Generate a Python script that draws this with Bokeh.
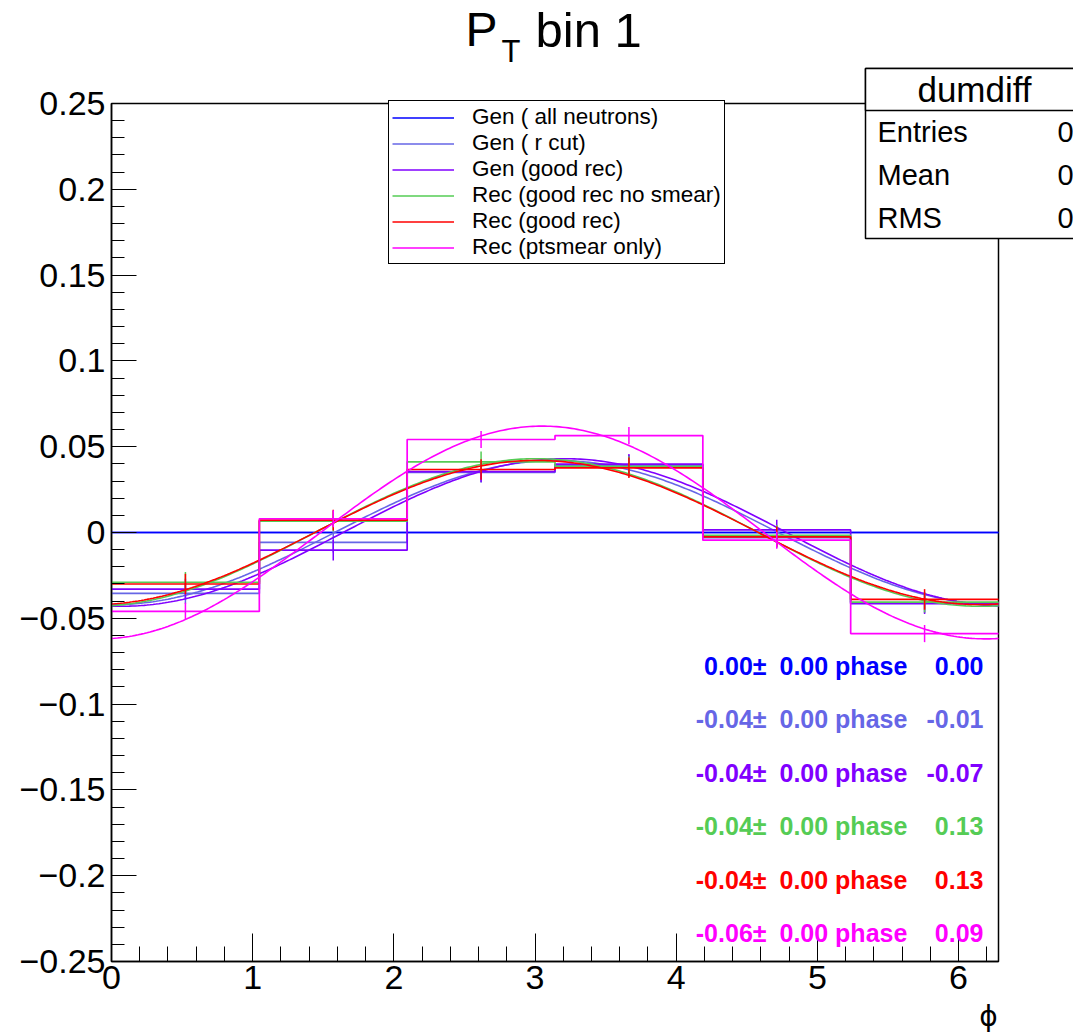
import numpy as np
from bokeh.plotting import figure
from bokeh.models import Range1d, FixedTicker, Label, Legend, LegendItem, BoxAnnotation
from bokeh.embed import file_html
from bokeh.resources import INLINE

# ---------------- data ----------------
series_names = ["Gen ( all neutrons)", "Gen ( r cut)", "Gen (good rec)",
                "Rec (good rec no smear)", "Rec (good rec)", "Rec (ptsmear only)"]
series_colors = ["#0000ff", "#6666e6", "#8000ff", "#55cc55", "#ff0000", "#ff00ff"]

n_bins = 6
gen_all      = [0.0, 0.0, 0.0, 0.0, 0.0, 0.0]
gen_rcut     = [-0.0355, -0.0057, 0.0350, 0.0392, -0.0030, -0.0410]
gen_goodrec  = [-0.0330, -0.0103, 0.0355, 0.0398, 0.0015, -0.0415]
rec_nosmear  = [-0.0290, 0.0066, 0.0412, 0.0385, -0.0017, -0.0406]
rec_goodrec  = [-0.0300, 0.0072, 0.0367, 0.0377, -0.0025, -0.0390]
rec_ptsmear  = [-0.0460, 0.0080, 0.0542, 0.0565, -0.0045, -0.0589]
hist_values = [gen_all, gen_rcut, gen_goodrec, rec_nosmear, rec_goodrec, rec_ptsmear]
hist_errors = [0.0, 0.006, 0.006, 0.006, 0.006, 0.005]

fit_amp   = [0.0, -0.042, -0.043, -0.043, -0.042, -0.062]
fit_err   = [0.0, 0.0, 0.0, 0.0, 0.0, 0.0]
fit_phase = [0.00, -0.01, -0.07, 0.13, 0.13, 0.09]

y_ticks = [-0.25, -0.2, -0.15, -0.1, -0.05, 0.0, 0.05, 0.1, 0.15, 0.2, 0.25]
y_tick_labels = ["\u22120.25", "\u22120.2", "\u22120.15", "\u22120.1", "\u22120.05", "0",
                 "0.05", "0.1", "0.15", "0.2", "0.25"]
x_ticks = [0, 1, 2, 3, 4, 5, 6]
x_tick_labels = ["0", "1", "2", "3", "4", "5", "6"]

stats_title = "dumdiff"
stats_rows = ["Entries", "Mean", "RMS"]
stats_vals = ["0", "0", "0"]

# ---------------- geometry ----------------
XMAX = 2 * np.pi
YMIN, YMAX = -0.25, 0.25
W, H = 1073, 1036
L, R, T, B = 111, 75, 103, 75        # pad position of the axis frame inside the canvas
FONT = "Liberation Sans"
fw, fh = W - L - R, H - T - B

def dx(px):
    return (px - L) / fw * XMAX

def dy(py):
    return YMAX - (py - T) / fh * (YMAX - YMIN)

# the Bokeh frame covers the whole canvas; the axes are pinned at the pad frame
p = figure(width=W, height=H, output_backend="svg", toolbar_location=None,
           x_range=Range1d(dx(0), dx(W)), y_range=Range1d(dy(H), dy(0)),
           min_border=0, min_border_left=0, min_border_right=0,
           min_border_top=0, min_border_bottom=0)
p.title.visible = False
p.xgrid.visible = False
p.ygrid.visible = False
p.outline_line_color = None
p.background_fill_color = "white"
p.border_fill_color = "white"

p.yaxis.fixed_location = 0.0
p.xaxis.fixed_location = YMIN
p.yaxis.bounds = (YMIN, YMAX)
p.xaxis.bounds = (0.0, XMAX)
p.yaxis.ticker = FixedTicker(ticks=y_ticks, minor_ticks=list(np.round(np.arange(-0.25, 0.2501, 0.01), 3)))
p.yaxis.major_label_overrides = {t: l for t, l in zip(y_ticks, y_tick_labels)}
p.xaxis.ticker = FixedTicker(ticks=x_ticks, minor_ticks=list(np.round(np.arange(0, 6.3, 0.2), 2)))
p.xaxis.major_label_overrides = {t: l for t, l in zip(x_ticks, x_tick_labels)}
for ax, maj, mnr in ((p.yaxis, 25, 13), (p.xaxis, 28, 15)):
    ax.major_tick_in = maj
    ax.major_tick_out = 0
    ax.minor_tick_in = mnr
    ax.minor_tick_out = 0
    ax.major_tick_line_color = "black"
    ax.minor_tick_line_color = "black"
    ax.axis_line_color = "black"
    ax.axis_line_width = 1.5
    ax.major_label_text_font = FONT
    ax.major_label_text_font_size = "34px"
    ax.major_label_text_color = "black"
p.yaxis.major_label_standoff = 6
p.xaxis.major_label_standoff = 4

# pad frame (top and right sides)
p.add_layout(BoxAnnotation(left=0.0, right=XMAX, bottom=YMIN, top=YMAX, fill_alpha=0.0,
                           line_color="black", line_alpha=1.0, line_width=1.5, level="underlay"))

# ---------------- histograms, error bars, fits ----------------
edges = np.linspace(0, XMAX, n_bins + 1)
centers = 0.5 * (edges[:-1] + edges[1:])
xf = np.linspace(0, XMAX, 300)
items = []
for name, col, vals, err, a, ph in zip(series_names, series_colors, hist_values,
                                       hist_errors, fit_amp, fit_phase):
    v = np.array(vals)
    r = p.step(edges, np.append(v, v[-1]), mode="after", line_color=col, line_width=1.7)
    if err > 0:
        p.segment(centers, v - err, centers, v + err, line_color=col, line_width=1.5)
    p.line(xf, a * np.cos(xf + ph), line_color=col, line_width=1.6)
    items.append(LegendItem(label=name, renderers=[r]))

legend = Legend(items=items, location=(388, H - 264),
                label_text_font=FONT, label_text_font_size="22.5px", label_text_color="black",
                glyph_width=62, glyph_height=25, label_height=25, spacing=0,
                padding=3, margin=0, label_standoff=18,
                border_line_color="black", border_line_alpha=1.0, border_line_width=1.5,
                background_fill_color="white", background_fill_alpha=1.0)
p.add_layout(legend, "center")

# ---------------- fit results text ----------------
row0, drow = dy(665), dy(665) - dy(718.5)
for i, (col, a, e, ph) in enumerate(zip(series_colors, fit_amp, fit_err, fit_phase)):
    yy = row0 - i * drow
    common = dict(y=yy, text_font=FONT, text_font_size="25px", text_font_style="bold",
                  text_color=col, text_baseline="middle")
    p.add_layout(Label(x=dx(766), text=f"{a:.2f}\u00b1", text_align="right", **common))
    p.add_layout(Label(x=dx(779), text=f"{e:.2f} phase", text_align="left", **common))
    p.add_layout(Label(x=dx(983), text=f"{ph:.2f}", text_align="right", **common))

# ---------------- stats box ----------------
box = dict(fill_color="white", fill_alpha=1.0, line_color="black", line_alpha=1.0,
           line_width=1.5, level="overlay")
p.add_layout(BoxAnnotation(left=dx(865), right=dx(1095), top=dy(68), bottom=dy(238), **box))
p.add_layout(BoxAnnotation(left=dx(865), right=dx(1095), top=dy(68), bottom=dy(110), **box))
lab = dict(text_font=FONT, text_color="black", level="overlay", text_baseline="middle")
p.add_layout(Label(x=dx(974), y=dy(89), text=stats_title, text_align="center",
                   text_font_size="35px", **lab))
for i, (nm, vl) in enumerate(zip(stats_rows, stats_vals)):
    yy = dy(131 + 43 * i)
    p.add_layout(Label(x=dx(877), y=yy, text=nm, text_align="left", text_font_size="29px", **lab))
    p.add_layout(Label(x=dx(1057), y=yy, text=vl, text_align="left", text_font_size="29px", **lab))

# ---------------- title and axis title ----------------
p.add_layout(Label(x=dx(465), y=dy(29), text="P", text_align="left", text_font_size="48px", **lab))
p.add_layout(Label(x=dx(501), y=dy(51), text="T", text_align="left", text_font_size="31px", **lab))
p.add_layout(Label(x=dx(535), y=dy(29), text="bin 1", text_align="left", text_font_size="49px", **lab))
p.add_layout(Label(x=dx(988), y=dy(1016), text="\u03d5", text_align="center", text_baseline="middle",
                   text_font="DejaVu Sans", text_color="black", text_font_size="28px",
                   level="overlay"))

open("out.html", "w").write(file_html(p, INLINE))
